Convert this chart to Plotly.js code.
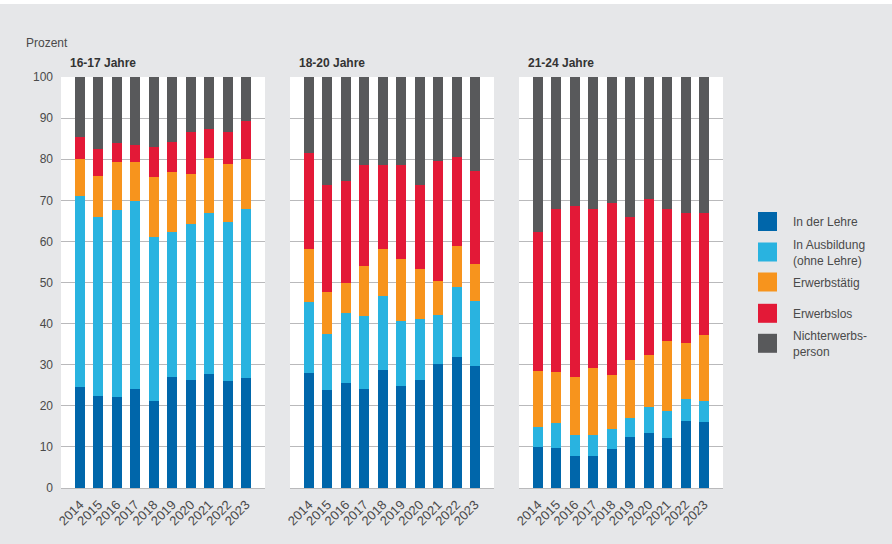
<!DOCTYPE html>
<html>
<head>
<meta charset="utf-8">
<script src="https://cdn.plot.ly/plotly-3.0.1.min.js"></script>
<style>
  html, body { margin: 0; padding: 0; background: #ffffff; }
  #chart { position: absolute; left: 0; top: 4px; width: 892px; height: 540px; }
</style>
</head>
<body>
<div id="chart"></div>
<script>
// Jahre (Kategorien der x-Achse)
const years = ["2014", "2015", "2016", "2017", "2018", "2019", "2020", "2021", "2022", "2023"];

// Altersgruppen
const groupTitles = ["16-17 Jahre", "18-20 Jahre", "21-24 Jahre"];

// Statuskategorien (Legende)
const seriesNames = ["In der Lehre", "In Ausbildung<br>(ohne Lehre)", "Erwerbstätig", "Erwerbslos", "Nichterwerbs-<br>person"];
const seriesColors = ["#0066aa", "#29b3e0", "#f7941d", "#e31937", "#58595b"];

// 16-17 Jahre, Anteile in Prozent
const lehre_16_17      = [24.5, 22.5, 22.1, 24.2, 21.1, 26.9, 26.4, 27.7, 26.0, 26.7];
const ausbildung_16_17 = [46.5, 43.5, 45.6, 45.7, 39.9, 35.3, 37.8, 39.1, 38.6, 41.1];
const taetig_16_17     = [ 9.0,  9.8, 11.5,  9.5, 14.6, 14.8, 12.1, 13.4, 14.2, 12.2];
const los_16_17        = [ 5.4,  6.7,  4.7,  4.1,  7.4,  7.3, 10.2,  7.1,  7.7,  9.4];
const nicht_16_17      = [14.6, 17.5, 16.1, 16.5, 17.0, 15.7, 13.5, 12.7, 13.5, 10.6];

// 18-20 Jahre, Anteile in Prozent
const lehre_18_20      = [27.9, 23.8, 25.5, 24.0, 28.6, 24.7, 26.4, 30.1, 31.8, 29.6];
const ausbildung_18_20 = [17.3, 13.6, 17.0, 17.8, 18.0, 16.0, 14.6, 12.1, 17.0, 16.0];
const taetig_18_20     = [13.0, 10.4,  7.5, 12.1, 11.6, 14.9, 12.2,  8.2, 10.2,  9.0];
const los_18_20        = [23.2, 26.0, 24.6, 24.6, 20.3, 22.9, 20.6, 29.2, 21.5, 22.6];
const nicht_18_20      = [18.6, 26.2, 25.4, 21.5, 21.5, 21.5, 26.2, 20.4, 19.5, 22.8];

// 21-24 Jahre, Anteile in Prozent
const lehre_21_24      = [ 9.9,  9.7,  7.9,  7.9,  9.4, 12.3, 13.3, 12.1, 16.2, 16.0];
const ausbildung_21_24 = [ 5.0,  6.0,  4.9,  5.1,  4.9,  4.7,  6.5,  6.6,  5.4,  5.2];
const taetig_21_24     = [13.6, 12.6, 14.3, 16.3, 13.3, 14.2, 12.6, 17.1, 13.6, 16.1];
const los_21_24        = [33.9, 39.7, 41.4, 38.7, 41.8, 34.7, 37.8, 32.0, 31.6, 29.5];
const nicht_21_24      = [37.6, 32.0, 31.5, 32.0, 30.6, 34.1, 29.8, 32.2, 33.2, 33.2];

const groups = [
  [lehre_16_17, ausbildung_16_17, taetig_16_17, los_16_17, nicht_16_17],
  [lehre_18_20, ausbildung_18_20, taetig_18_20, los_18_20, nicht_18_20],
  [lehre_21_24, ausbildung_21_24, taetig_21_24, los_21_24, nicht_21_24]
];

const W = 892;
const FONT = "Liberation Sans, Arial, sans-serif";
const TEXT = "#4a4a4a";
const GRID = "#b9b9bb";
const BG = "#e6e7e9";

// Panel-Positionen in Pixeln (links/rechts der Zeichenfläche)
const panels = [[61, 265], [290, 494], [519, 723]];
const px = x => x / W;
// Seiten-Pixel (y) -> Papierkoordinate der Zeichenfläche
const PLOT_TOP = 77, PLOT_BOTTOM = 488;
const py = y => (PLOT_BOTTOM - y) / (PLOT_BOTTOM - PLOT_TOP);

const traces = [];
groups.forEach((series, g) => {
  const sfx = g === 0 ? "" : String(g + 1);
  series.forEach((vals, s) => {
    traces.push({
      type: "bar",
      x: years,
      y: vals,
      name: seriesNames[s],
      marker: { color: seriesColors[s], line: { width: 0 } },
      xaxis: "x" + sfx,
      yaxis: "y" + sfx,
      showlegend: false,
      hovertemplate: "%{x}: %{y:.1f} %<extra>" + seriesNames[s].replace("<br>", " ") + "</extra>"
    });
  });
});

const layout = {
  width: 892,
  height: 540,
  barmode: "stack",
  bargap: 0.46,
  paper_bgcolor: BG,
  plot_bgcolor: "#ffffff",
  margin: { l: 0, r: 0, t: 73, b: 56, pad: 0 },
  font: { family: FONT, color: TEXT, size: 11 },
  showlegend: false,
  shapes: [],
  annotations: []
};

panels.forEach((p, g) => {
  const sfx = g === 0 ? "" : String(g + 1);
  layout["xaxis" + sfx] = {
    domain: [px(p[0]), px(p[1])],
    anchor: "y" + sfx,
    type: "category",
    range: [-1.03, 10.03],
    tickangle: -45,
    showgrid: false,
    zeroline: false,
    showline: true,
    linecolor: GRID,
    linewidth: 1,
    ticks: "",
    ticklabelstandoff: 3,
    tickfont: { family: FONT, size: 13, color: TEXT },
    fixedrange: true
  };
  layout["yaxis" + sfx] = {
    anchor: "x" + sfx,
    range: [0, 100],
    dtick: 10,
    tick0: 0,
    showgrid: true,
    gridcolor: GRID,
    gridwidth: 1,
    zeroline: false,
    showline: false,
    ticks: "",
    showticklabels: g === 0,
    ticklabelstandoff: 7,
    tickfont: { family: FONT, size: 12, color: TEXT },
    fixedrange: true
  };
  layout.annotations.push({
    text: groupTitles[g],
    xref: "paper", yref: "paper",
    x: px(p[0] + 7), y: py(63),
    xanchor: "left", yanchor: "middle",
    showarrow: false,
    font: { family: FONT, size: 12, color: "#333333", weight: "bold" }
  });
});

// Einheit
layout.annotations.push({
  text: "Prozent",
  xref: "paper", yref: "paper",
  x: px(24), y: py(43),
  xanchor: "left", yanchor: "middle",
  showarrow: false,
  font: { family: FONT, size: 12, color: TEXT }
});

// Legende (Farbfelder + Beschriftung)
const legendCenters = [221.5, 252, 282, 313.3, 343.3];
seriesNames.forEach((name, s) => {
  const cy = legendCenters[s];
  layout.shapes.push({
    type: "rect",
    xref: "paper", yref: "paper",
    x0: px(758), x1: px(777),
    y0: py(cy + 9.5), y1: py(cy - 9.5),
    fillcolor: seriesColors[s],
    line: { width: 0 }
  });
  layout.annotations.push({
    text: name,
    xref: "paper", yref: "paper",
    x: px(791), y: py(cy + 0.5),
    xanchor: "left", yanchor: "middle",
    align: "left",
    showarrow: false,
    font: { family: FONT, size: 12, color: TEXT }
  });
});

Plotly.newPlot("chart", traces, layout, { displayModeBar: false, staticPlot: true });
</script>
</body>
</html>
